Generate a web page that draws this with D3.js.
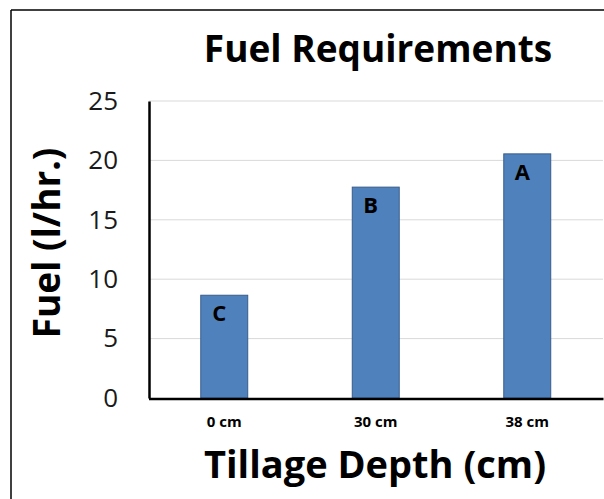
<!DOCTYPE html>
<html><head><meta charset="utf-8">
<script src="https://cdn.jsdelivr.net/npm/d3@7"></script>
<style>body{margin:0;background:#fff}svg{display:block}</style>
</head><body>
<script>
const categories = ["0 cm", "30 cm", "38 cm"];
const values = [8.65, 17.75, 20.55];
const letters = ["C", "B", "A"];
const yTicks = [0, 5, 10, 15, 20, 25];
const title = "Fuel Requirements";
const xTitle = "Tillage Depth (cm)";
const yTitle = "Fuel (l/hr.)";

const W = 604, H = 499;
const font = "'Open Sans', sans-serif";
const svg = d3.select("body").append("svg").attr("width", W).attr("height", H);

// frame
svg.append("line").attr("x1", 11).attr("x2", W).attr("y1", 10).attr("y2", 10).attr("stroke", "#000").attr("stroke-width", 1.5);
svg.append("line").attr("x1", 11).attr("x2", 11).attr("y1", 10).attr("y2", H).attr("stroke", "#000").attr("stroke-width", 1.5);

const x = d3.scaleBand().domain(categories).range([148.5, 603]).paddingInner(0.69).paddingOuter(0.345);
const y = d3.scaleLinear().domain([0, 25]).range([398, 101]);

// gridlines
svg.append("g").selectAll("line").data(yTicks.filter(d => d > 0)).join("line")
  .attr("x1", 149).attr("x2", 603).attr("y1", d => y(d)).attr("y2", d => y(d))
  .attr("stroke", "#d9d9d9").attr("stroke-width", 1);

// bars
svg.append("g").selectAll("rect").data(values).join("rect")
  .attr("x", (d, i) => x(categories[i])).attr("width", x.bandwidth())
  .attr("y", d => y(d)).attr("height", d => y(0) - y(d))
  .attr("fill", "#4f81bd").attr("stroke", "#385d8a").attr("stroke-width", 1);

// letters
svg.append("g").selectAll("text").data(values).join("text")
  .attr("x", (d, i) => x(categories[i]) + x.bandwidth() / 2 - 5)
  .attr("y", d => y(d) + 26)
  .attr("text-anchor", "middle").attr("font-family", font).attr("font-weight", 700)
  .attr("font-size", 22).attr("fill", "#000").text((d, i) => letters[i]);

// y axis
const yAxis = d3.axisLeft(y).tickValues(yTicks).tickSize(0).tickPadding(31);
const gy = svg.append("g").attr("transform", "translate(149,0)").call(yAxis);
gy.select(".domain").attr("stroke", "#000").attr("stroke-width", 2.5);
gy.selectAll("text").attr("font-family", font).attr("font-size", 26).attr("fill", "#1a1a1a");

// x axis
const xAxis = d3.axisBottom(x).tickSize(0).tickPadding(18);
const gx = svg.append("g").attr("transform", "translate(0,398.5)").call(xAxis);
gx.select(".domain").attr("stroke", "#000").attr("stroke-width", 2.5);
gx.selectAll("text").attr("font-family", font).attr("font-weight", 700).attr("font-size", 15).attr("fill", "#000");

// titles
svg.append("text").attr("x", 378).attr("y", 62).attr("text-anchor", "middle")
  .attr("font-family", font).attr("font-weight", 700).attr("font-size", 37).text(title);
svg.append("text").attr("x", 375).attr("y", 478).attr("text-anchor", "middle")
  .attr("font-family", font).attr("font-weight", 700).attr("font-size", 38).text(xTitle);
svg.append("text").attr("transform", "translate(60,243) rotate(-90)").attr("text-anchor", "middle")
  .attr("font-family", font).attr("font-weight", 700).attr("font-size", 37).text(yTitle);
</script>
</body></html>
